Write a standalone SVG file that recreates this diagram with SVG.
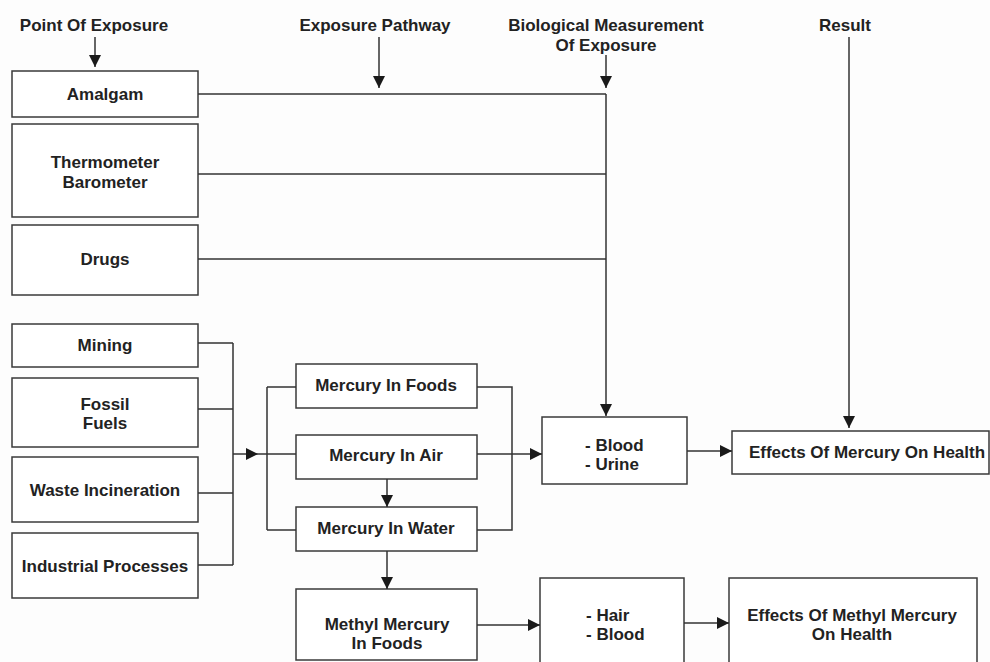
<svg xmlns="http://www.w3.org/2000/svg" width="990" height="662" viewBox="0 0 990 662">
<defs>
<marker id="ah" markerUnits="userSpaceOnUse" markerWidth="12" markerHeight="12" refX="12" refY="6" orient="auto">
<path d="M0,0 L12,6 L0,12 z" fill="#1a1a1a"/>
</marker>
<style>
.box{fill:#fff;stroke:#3a3a3a;stroke-width:1.5}
.t{font-family:"Liberation Sans",Arial,sans-serif;font-weight:bold;font-size:17px;fill:#222;text-anchor:middle}
.l{text-anchor:start}
.c{fill:none;stroke:#333;stroke-width:1.5}
.a{fill:none;stroke:#333;stroke-width:1.5;marker-end:url(#ah)}
</style>
</defs>
<rect width="990" height="662" fill="#fdfdfd"/>
<g id="headers">
<text class="t" x="94" y="31">Point Of Exposure</text>
<text class="t" x="375" y="31">Exposure Pathway</text>
<text class="t" x="606" y="31">Biological Measurement</text>
<text class="t" x="606" y="51">Of Exposure</text>
<text class="t" x="845" y="31">Result</text>
</g>
<g id="amalgam"><rect class="box" x="12" y="71" width="186" height="46"/><text class="t" x="105" y="100">Amalgam</text></g>
<g id="thermometer"><rect class="box" x="12" y="124" width="186" height="93"/><text class="t" x="105" y="168">Thermometer</text><text class="t" x="105" y="188">Barometer</text></g>
<g id="drugs"><rect class="box" x="12" y="225" width="186" height="70"/><text class="t" x="105" y="265">Drugs</text></g>
<g id="mining"><rect class="box" x="12" y="324" width="186" height="43"/><text class="t" x="105" y="351">Mining</text></g>
<g id="fossil"><rect class="box" x="12" y="378" width="186" height="69"/><text class="t" x="105" y="410">Fossil</text><text class="t" x="105" y="429">Fuels</text></g>
<g id="waste"><rect class="box" x="12" y="457" width="186" height="65"/><text class="t" x="105" y="496">Waste Incineration</text></g>
<g id="industrial"><rect class="box" x="12" y="533" width="186" height="65"/><text class="t" x="105" y="572">Industrial Processes</text></g>
<g id="hgfoods"><rect class="box" x="296" y="364" width="181" height="44"/><text class="t" x="386" y="391">Mercury In Foods</text></g>
<g id="hgair"><rect class="box" x="296" y="435" width="181" height="44"/><text class="t" x="386" y="461">Mercury In Air</text></g>
<g id="hgwater"><rect class="box" x="296" y="507" width="181" height="44"/><text class="t" x="386" y="534">Mercury In Water</text></g>
<g id="methylfoods"><rect class="box" x="296" y="589" width="181" height="71"/><text class="t" x="387" y="630">Methyl Mercury</text><text class="t" x="387" y="649">In Foods</text></g>
<g id="bloodurine"><rect class="box" x="542" y="417" width="145" height="67"/><text class="t l" x="585" y="451">- Blood</text><text class="t l" x="585" y="470">- Urine</text></g>
<g id="hairblood"><rect class="box" x="540" y="578" width="144" height="90"/><text class="t l" x="586" y="621">- Hair</text><text class="t l" x="586" y="640">- Blood</text></g>
<g id="effects"><rect class="box" x="732" y="431" width="257" height="43"/><text class="t" x="867" y="458">Effects Of Mercury On Health</text></g>
<g id="effectsmethyl"><rect class="box" x="729" y="578" width="248" height="90"/><text class="t" x="852" y="621">Effects Of Methyl Mercury</text><text class="t" x="852" y="640">On Health</text></g>
<g id="connectors">
<path class="a" d="M95,37 V67"/>
<path class="a" d="M379,37 V88"/>
<path class="a" d="M606,55 V88"/>
<path class="c" d="M198,94 H606"/>
<path class="c" d="M198,174 H606"/>
<path class="c" d="M198,259 H606"/>
<path class="a" d="M606,94 V416"/>
<path class="a" d="M849,37 V428"/>
<path class="c" d="M198,343 H233 M198,409 H233 M198,493 H233 M198,565 H233 M233,343 V565"/>
<path class="a" d="M233,454 H258"/>
<path class="c" d="M258,454 H296 M267,387 V530 M267,387 H296 M267,530 H296"/>
<path class="c" d="M477,387 H512 V530 H477"/>
<path class="a" d="M477,454 H542"/>
<path class="a" d="M387,479 V507"/>
<path class="a" d="M387,551 V589"/>
<path class="a" d="M477,625 H540"/>
<path class="a" d="M687,451 H732"/>
<path class="a" d="M684,623 H729"/>
</g>
</svg>
